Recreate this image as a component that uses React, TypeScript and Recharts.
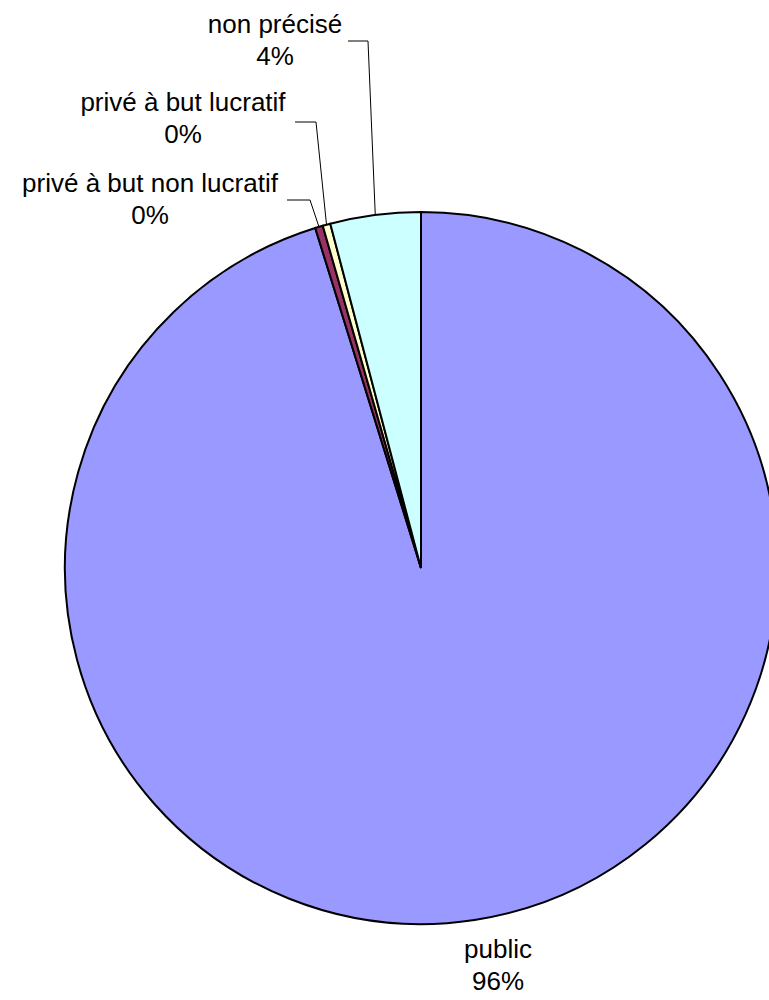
import { PieChart, Pie, Cell } from 'recharts'

const categories = ['public', 'privé à but non lucratif', 'privé à but lucratif', 'non précisé']
const values = [95.2, 0.35, 0.35, 4.1]
const pctLabels = ['96%', '0%', '0%', '4%']
const colors = ['#9999FF', '#993366', '#FFFFCC', '#CCFFFF']

// label text position (centre, first baseline) and leader elbow per slice
const labelLayout = [
  { x: 498, y: 958, line: null },
  { x: 150, y: 192, line: { x1: 287, y1: 200, x2: 310, y2: 200 } },
  { x: 183, y: 111, line: { x1: 295, y1: 122, x2: 316, y2: 122 } },
  { x: 275, y: 33, line: { x1: 348, y1: 41, x2: 368, y2: 41 } },
]

const data = categories.map((name, i) => ({ name, value: values[i], pct: pctLabels[i] }))

const RADIAN = Math.PI / 180

const renderLabel = (props: any) => {
  const { cx, cy, midAngle, outerRadius, index } = props
  const lay = labelLayout[index]
  const d = data[index]
  const ex = cx + outerRadius * Math.cos(-midAngle * RADIAN)
  const ey = cy + outerRadius * Math.sin(-midAngle * RADIAN)
  return (
    <g key={'lbl-' + index}>
      {lay.line && (
        <polyline
          points={`${lay.line.x1},${lay.line.y1} ${lay.line.x2},${lay.line.y2} ${ex},${ey}`}
          fill="none"
          stroke="#000"
          strokeWidth={1}
        />
      )}
      <text
        x={lay.x}
        y={lay.y}
        textAnchor="middle"
        fill="#000"
        fontSize={26}
        fontFamily="'Liberation Sans', Arial, sans-serif"
      >
        <tspan x={lay.x}>{d.name}</tspan>
        <tspan x={lay.x} dy={32}>{d.pct}</tspan>
      </text>
    </g>
  )
}

export default function App() {
  return (
    <div style={{ position: 'absolute', left: 0, top: 0, width: 769, height: 1000, background: '#fff' }}>
      <PieChart width={769} height={1000} margin={{ top: 0, right: 0, bottom: 0, left: 0 }}>
        <Pie
          data={data}
          dataKey="value"
          nameKey="name"
          cx={421}
          cy={568}
          outerRadius={356}
          startAngle={90}
          endAngle={-270}
          stroke="#000"
          strokeWidth={2}
          label={renderLabel}
          labelLine={false}
          isAnimationActive={false}
        >
          {data.map((d, i) => (
            <Cell key={d.name} fill={colors[i]} />
          ))}
        </Pie>
      </PieChart>
    </div>
  )
}
